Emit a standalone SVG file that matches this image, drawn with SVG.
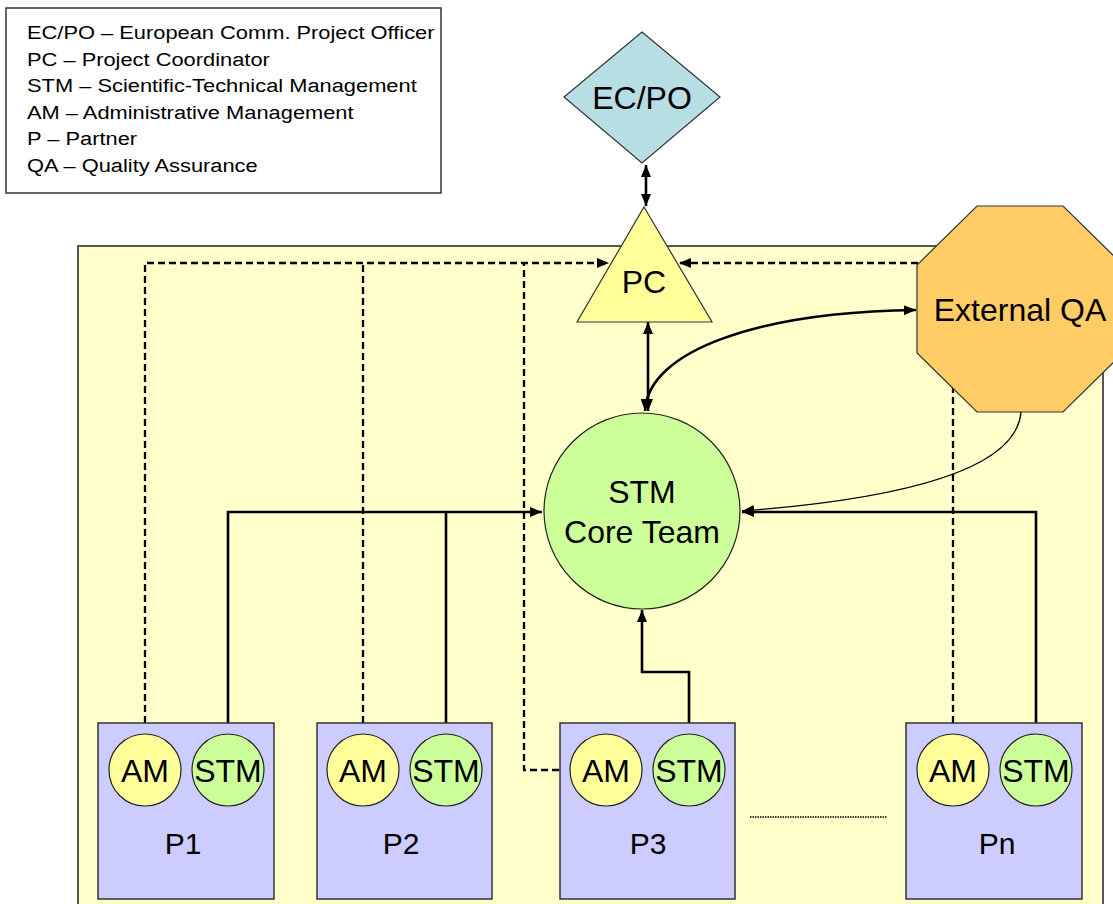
<svg xmlns="http://www.w3.org/2000/svg" width="1113" height="904" viewBox="0 0 1113 904">
  <style>
    text { font-family: "Liberation Sans", Arial, sans-serif; fill: #000; }
    .legend { font-size: 19px; }
    .big { font-size: 32px; text-anchor: middle; }
    .small { font-size: 32px; text-anchor: middle; }
    .plabel { font-size: 30px; text-anchor: middle; }
    .solid { fill: none; stroke: #000; stroke-width: 2.6; }
    .dash { fill: none; stroke: #000; stroke-width: 2.3; stroke-dasharray: 7 4; }
    .thin { fill: none; stroke: #000; stroke-width: 1.3; }
    .partner { fill: #CCCCFF; stroke: #333; stroke-width: 1.5; }
    .am { fill: #FFFF99; stroke: #222; stroke-width: 1.2; }
    .stm { fill: #CCFF99; stroke: #222; stroke-width: 1.2; }
  </style>
  <defs>
    <marker id="arr" viewBox="0 0 12 10" refX="12" refY="5" markerWidth="12" markerHeight="10" markerUnits="userSpaceOnUse" orient="auto-start-reverse">
      <path d="M0,0 L12,5 L0,10 z" fill="#000"/>
    </marker>
  </defs>

  <!-- legend -->
  <g id="legend">
    <rect x="6" y="8" width="435" height="185" fill="#fff" stroke="#333" stroke-width="1.5"/>
    <g transform="translate(27,0) scale(1.15,1)">
      <text class="legend" x="0" y="39.5">EC/PO – European Comm. Project Officer</text>
      <text class="legend" x="0" y="66">PC – Project Coordinator</text>
      <text class="legend" x="0" y="92.5">STM – Scientific-Technical Management</text>
      <text class="legend" x="0" y="119">AM – Administrative Management</text>
      <text class="legend" x="0" y="145.5">P – Partner</text>
      <text class="legend" x="0" y="172">QA – Quality Assurance</text>
    </g>
  </g>

  <!-- project area -->
  <g id="project-area">
    <rect x="78" y="246" width="1025" height="670" fill="#FFFFCC" stroke="#555" stroke-width="2"/>
  </g>

  <!-- connectors -->
  <g id="connectors">
    <!-- EC/PO <-> PC -->
    <line class="solid" x1="646" y1="165" x2="646" y2="206" marker-start="url(#arr)" marker-end="url(#arr)"/>
    <!-- PC <-> STM core team -->
    <line class="solid" x1="648" y1="322" x2="648" y2="411" marker-start="url(#arr)" marker-end="url(#arr)"/>
    <!-- STM core team <-> External QA -->
    <path class="solid" d="M645,411 C648,350 760,312 916,310" marker-start="url(#arr)" marker-end="url(#arr)"/>
    <!-- External QA -> STM core team -->
    <path class="thin" d="M1021,412 Q1015,490 742,511" marker-end="url(#arr)"/>

    <!-- AM reporting lines to PC -->
    <path class="dash" d="M145,734 V263 H609" marker-end="url(#arr)"/>
    <path class="dash" d="M363,734 V263"/>
    <path class="dash" d="M570,770 H524 V263"/>
    <path class="dash" d="M953,734 V263 H679" marker-end="url(#arr)"/>

    <!-- partner STM lines to core team -->
    <path class="solid" d="M228,734 V512 H542" marker-end="url(#arr)"/>
    <path class="solid" d="M446,734 V512"/>
    <path class="solid" d="M689,734 V672 H642 V610" marker-end="url(#arr)"/>
    <path class="solid" d="M1036,734 V512 H742" marker-end="url(#arr)"/>

    <!-- ellipsis between partners -->
    <line x1="750" y1="817" x2="887" y2="817" stroke="#000" stroke-width="1.6" stroke-dasharray="1.5 1"/>
  </g>

  <!-- EC/PO -->
  <g id="ecpo">
    <polygon points="642,32 720,97 642,163 564,97" fill="#B7DEE3" stroke="#333" stroke-width="1.2"/>
    <text class="big" x="642" y="109">EC/PO</text>
  </g>

  <!-- PC -->
  <g id="pc">
    <polygon points="644,207 712,322 577,322" fill="#FFFF99" stroke="#333" stroke-width="1.2"/>
    <text class="big" x="644" y="293">PC</text>
  </g>

  <!-- External QA -->
  <g id="external-qa">
    <polygon points="977,206 1063,206 1123,265 1123,353 1063,412 977,412 917,353 917,265" fill="#FFCC66" stroke="#333" stroke-width="1.2"/>
    <text class="big" x="1020" y="321">External QA</text>
  </g>

  <!-- STM core team -->
  <g id="stm-core">
    <circle cx="642" cy="511" r="98" fill="#CCFF99" stroke="#222" stroke-width="1.2"/>
    <text class="big" x="642" y="503">STM</text>
    <text class="big" x="642" y="543">Core Team</text>
  </g>

  <!-- partners -->
  <g id="p1">
    <rect class="partner" x="98" y="723" width="176" height="176"/>
    <circle class="am" cx="145" cy="770" r="36"/>
    <circle class="stm" cx="228" cy="770" r="36"/>
    <text class="small" x="145" y="782">AM</text>
    <text class="small" x="228" y="782">STM</text>
    <text class="plabel" x="183" y="854">P1</text>
  </g>
  <g id="p2">
    <rect class="partner" x="317" y="723" width="175" height="176"/>
    <circle class="am" cx="363" cy="770" r="36"/>
    <circle class="stm" cx="446" cy="770" r="36"/>
    <text class="small" x="363" y="782">AM</text>
    <text class="small" x="446" y="782">STM</text>
    <text class="plabel" x="401" y="854">P2</text>
  </g>
  <g id="p3">
    <rect class="partner" x="560" y="723" width="175" height="176"/>
    <circle class="am" cx="606" cy="770" r="36"/>
    <circle class="stm" cx="689" cy="770" r="36"/>
    <text class="small" x="606" y="782">AM</text>
    <text class="small" x="689" y="782">STM</text>
    <text class="plabel" x="648" y="854">P3</text>
  </g>
  <g id="pn">
    <rect class="partner" x="906" y="723" width="176" height="176"/>
    <circle class="am" cx="953" cy="770" r="36"/>
    <circle class="stm" cx="1036" cy="770" r="36"/>
    <text class="small" x="953" y="782">AM</text>
    <text class="small" x="1036" y="782">STM</text>
    <text class="plabel" x="997" y="854">Pn</text>
  </g>
</svg>
